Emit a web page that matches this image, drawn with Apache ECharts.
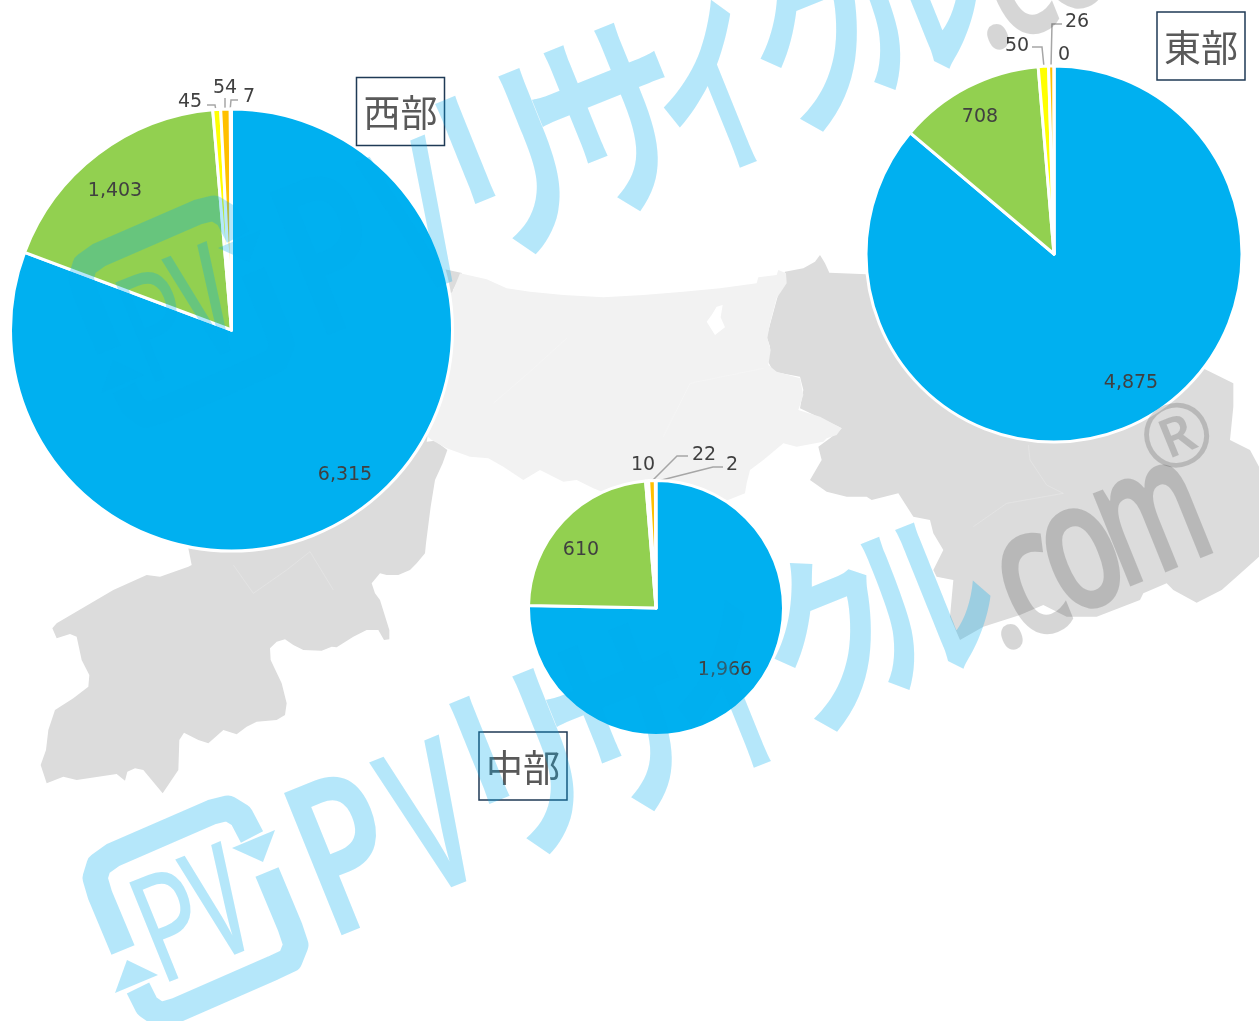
<!DOCTYPE html>
<html>
<head>
<meta charset="utf-8">
<style>
  html, body { margin: 0; padding: 0; background: #fff; }
  #chart { width: 1259px; height: 1021px; }
</style>
<script src="https://cdn.jsdelivr.net/npm/echarts@6/dist/echarts.min.js"></script>
</head>
<body>
<div id="chart"></div>
<script>
// 発電設備の内訳(西部・中部・東部)
const sliceColors = ['#00B0F0', '#92D050', '#FFFF00', '#FFC000', '#C00000']
const westValues = [6315, 1403, 45, 54, 7]
const middleValues = [1966, 610, 10, 22, 2]
const eastValues = [4875, 708, 50, 26, 0]

// label anchors, one per slice
const westLabelPos = [[345, 475], [115, 191], [190, 102], [225, 88], [249, 97]]
const middleLabelPos = [[725, 670], [581, 550], [643, 465], [704, 455], [732, 465]]
const eastLabelPos = [[1131, 383], [980, 117], [1017, 46], [1077, 22], [1064, 55]]

const westLines = [null, null, [[207, 105], [215, 105], [216, 111]], [[225, 98], [225, 104], [225, 111]], [[238, 100], [231, 100], [230, 111]]]
const middleLines = [null, null, null, [[688, 456], [677, 456], [652, 481]], [[723, 467], [713, 467], [654, 482]]]
const eastLines = [null, null, [[1032, 47], [1042, 47], [1044, 67]], [[1062, 24], [1052, 24], [1051, 67]], null]

// 背景の地図(zoom 3倍の座標で拾ったもの)
const fromZoom = (ox, oy, pts) => pts.map(p => [p[0] / 3 + ox, p[1] / 3 + oy])

const westArea = fromZoom(20, 430, [
  [1220, 35], [1245, 32], [1282, 60], [1268, 100], [1245, 150], [1232, 230], [1218, 340], [1215, 370], [1190, 400], [1170, 420],
  [1135, 435], [1100, 435], [1080, 430], [1055, 460], [1065, 490], [1080, 510], [1108, 600], [1108, 628], [1092, 630], [1075, 600],
  [1040, 600], [1000, 620], [950, 652], [935, 650], [905, 662], [850, 660], [820, 645], [795, 628], [770, 635], [750, 655],
  [752, 690], [785, 760], [800, 820], [795, 855], [770, 870], [710, 875], [680, 890], [650, 913], [610, 900], [565, 940],
  [535, 930], [492, 908], [478, 930], [475, 1020], [428, 1090], [370, 1020], [345, 1015], [322, 1025], [315, 1052], [290, 1032],
  [170, 1050], [130, 1040], [80, 1060], [62, 1005], [78, 960], [85, 900], [105, 840], [160, 805], [205, 770], [208, 735],
  [185, 690], [170, 620], [150, 612], [110, 625], [97, 595], [110, 580], [280, 480], [380, 435], [420, 440], [505, 410],
  [515, 405], [505, 355], [800, 100], [1240, -490], [1326, -471], [1299, -420]
])
const middleArea = fromZoom(430, 240, [
  [90, 100], [170, 118], [230, 145], [300, 155], [400, 165], [520, 172], [640, 165], [760, 155], [870, 145], [980, 130],
  [985, 112], [1040, 105], [1045, 90], [1068, 100], [1070, 130], [1040, 175], [1020, 250], [1012, 295], [1022, 330], [1015, 375],
  [1040, 395], [1110, 415], [1120, 465], [1105, 510], [1170, 530], [1235, 565], [1220, 585], [1190, 595], [1180, 605], [1100, 620],
  [1060, 610], [1000, 660], [960, 690], [950, 730], [945, 760], [870, 790], [600, 790], [490, 745], [440, 720], [400, 725],
  [330, 690], [280, 720], [220, 680], [175, 655], [120, 650], [50, 625], [5, 600], [-30, 570], [-60, 450], [-60, 250], [68, 155]
])
const lakeArea = fromZoom(430, 240, [[830, 245], [845, 225], [860, 200], [878, 195], [872, 232], [885, 262], [855, 285]])
const eastArea = fromZoom(760, 240, [
  [75, 95], [130, 85], [165, 65], [180, 45], [195, 70], [208, 98], [320, 103], [500, 100], [1335, 388], [1420, 430],
  [1420, 500], [1410, 600], [1470, 630], [1497, 680], [1497, 950], [1430, 1010], [1385, 1050], [1310, 1088], [1240, 1050], [1220, 1030],
  [1150, 1060], [1140, 1080], [1010, 1130], [920, 1130], [850, 1095], [780, 1125], [670, 1160], [600, 1200], [570, 1130], [580, 1020],
  [530, 1010], [520, 990], [550, 930], [520, 880], [510, 840], [460, 830], [415, 760], [335, 780], [320, 770], [260, 770],
  [200, 755], [150, 720], [185, 660], [175, 620], [210, 595], [245, 565], [120, 505], [130, 450], [120, 410], [40, 395],
  [22, 360], [30, 320], [20, 290], [50, 180]
])
const mapSeams = [
  fromZoom(20, 430, [[640, 405], [700, 490], [800, 420], [870, 365], [940, 480]]),
  fromZoom(760, 240, [[805, 615], [810, 660], [860, 735], [910, 760], [740, 790], [640, 860]]),
  fromZoom(430, 240, [[410, 295], [300, 395], [190, 490]]),
  fromZoom(430, 240, [[1000, 385], [780, 430], [700, 590]])
]

const mapGraphics = [
  { type: 'polygon', shape: { points: westArea }, style: { fill: '#DCDCDC' }, z: 0 },
  { type: 'polygon', shape: { points: eastArea }, style: { fill: '#DCDCDC' }, z: 0 },
  { type: 'polygon', shape: { points: middleArea }, style: { fill: '#F2F2F2' }, z: 0 },
  { type: 'polygon', shape: { points: lakeArea }, style: { fill: '#FFFFFF' }, z: 0 }
].concat(mapSeams.map(pts => ({
  type: 'polyline', shape: { points: pts }, style: { stroke: '#FFFFFF', lineWidth: 1, opacity: 0.2, fill: null }, z: 0
})))

// 透かし PVリサイクル.com
const markBlue = { fill: '#00AEEF', opacity: 0.29 }
const markGray = { fill: '#000000', opacity: 0.16 }
const markAngle = 22 * Math.PI / 180
const kanaFont = '"Noto Sans CJK JP"'
const latinFont = '"Noto Sans"'
const markGlyphs = [
  { ch: 'P', x: 350, y: 866, size: 215, sx: 0.72, w: '600', font: latinFont, c: markBlue },
  { ch: 'V', x: 437, y: 830, size: 205, sx: 0.58, w: '600', font: latinFont, c: markBlue },
  { ch: 'リ', x: 523, y: 764, size: 215, sx: 0.7, w: 'bold', font: kanaFont, c: markBlue },
  { ch: 'サ', x: 626, y: 720, size: 215, sx: 0.7, w: 'bold', font: kanaFont, c: markBlue },
  { ch: 'イ', x: 726, y: 690, size: 195, sx: 0.6, w: 'bold', font: kanaFont, c: markBlue },
  { ch: 'ク', x: 832, y: 640, size: 195, sx: 0.72, w: 'bold', font: kanaFont, c: markBlue },
  { ch: 'ル', x: 922, y: 598, size: 190, sx: 0.72, w: 'bold', font: kanaFont, c: markBlue },
  { ch: '.', x: 998, y: 602, size: 170, sx: 0.75, w: '600', font: latinFont, c: markGray },
  { ch: 'c', x: 1031, y: 584, size: 185, sx: 0.68, w: '600', font: latinFont, c: markGray },
  { ch: 'o', x: 1082, y: 556, size: 185, sx: 0.68, w: '600', font: latinFont, c: markGray },
  { ch: 'm', x: 1152, y: 521, size: 185, sx: 0.6, w: '600', font: latinFont, c: markGray },
  { ch: '®', x: 1179, y: 441, size: 88, sx: 1, w: 'normal', font: latinFont, c: markGray }
]
const logoArcA = [[123, 950], [100, 895], [95, 878], [99, 865], [113, 855], [212, 812], [228, 808], [241, 816], [252, 837]]
const logoArcB = [[267, 872], [290, 927], [296, 945], [290, 960], [273, 968], [177, 1010], [160, 1015], [147, 1006], [138, 988]]
const logoHeadA = [[275, 830], [263, 862], [232, 848]]
const logoHeadB = [[127, 960], [158, 975], [115, 993]]

function makeMark(dx, dy) {
  const children = [
    { type: 'polyline', shape: { points: logoArcA }, style: { fill: null, stroke: '#00AEEF', lineWidth: 25, lineJoin: 'round', opacity: 0.29 } },
    { type: 'polyline', shape: { points: logoArcB }, style: { fill: null, stroke: '#00AEEF', lineWidth: 25, lineJoin: 'round', opacity: 0.29 } },
    { type: 'polygon', shape: { points: logoHeadA }, style: { ...markBlue } },
    { type: 'polygon', shape: { points: logoHeadB }, style: { ...markBlue } },
    {
      type: 'text', x: 174, y: 934, rotation: markAngle, scaleX: 0.72,
      style: { text: 'P', font: '150px ' + latinFont, align: 'center', verticalAlign: 'middle', ...markBlue }
    },
    {
      type: 'text', x: 223, y: 912, rotation: markAngle, scaleX: 0.5,
      style: { text: 'V', font: '600 155px ' + latinFont, align: 'center', verticalAlign: 'middle', ...markBlue }
    }
  ]
  markGlyphs.forEach(g => {
    children.push({
      type: 'text', x: g.x, y: g.y, rotation: markAngle, scaleX: g.sx,
      style: { text: g.ch, font: g.w + ' ' + g.size + 'px ' + g.font, align: 'center', verticalAlign: 'middle', ...g.c }
    })
  })
  return { type: 'group', x: dx, y: dy, z: 100, children: children.map(c => ({ ...c, z: 100 })) }
}

// 地域名の枠
const regionBoxes = [
  { name: '西部', x: 356.5, y: 77.5, w: 88, h: 68 },
  { name: '東部', x: 1157, y: 12, w: 88, h: 68 },
  { name: '中部', x: 479, y: 732, w: 88, h: 68 }
]
const boxGraphics = []
regionBoxes.forEach(b => {
  boxGraphics.push({ type: 'rect', shape: { x: b.x, y: b.y, width: b.w, height: b.h }, style: { fill: null, stroke: '#1F3A56', lineWidth: 1.5 }, z: 50 })
  boxGraphics.push({
    type: 'text', x: b.x + b.w / 2, y: b.y + b.h / 2 + 1.5, z: 50,
    style: { text: b.name, font: '37px "Noto Sans CJK JP"', fill: '#595959', align: 'center', verticalAlign: 'middle' }
  })
})

function pieSeries(values, center, radius, labelPos, lines) {
  return {
    type: 'pie',
    center: center,
    radius: radius,
    startAngle: 90,
    clockwise: true,
    animation: false,
    silent: true,
    avoidLabelOverlap: false,
    stillShowZeroSum: true,
    itemStyle: { borderColor: '#FFFFFF', borderWidth: 3 },
    label: {
      show: true,
      position: 'outside',
      fontFamily: '"DejaVu Sans"',
      fontSize: 19,
      color: '#404040',
      formatter: p => p.value.toLocaleString('en-US')
    },
    labelLine: { show: true, lineStyle: { color: '#A6A6A6', width: 1.5 } },
    labelLayout: params => {
      const pos = labelPos[params.dataIndex]
      const out = { x: pos[0], y: pos[1], align: 'center', verticalAlign: 'middle' }
      if (lines[params.dataIndex]) out.labelLinePoints = lines[params.dataIndex]
      return out
    },
    data: values.map((v, i) => ({
      value: v,
      itemStyle: { color: sliceColors[i] },
      labelLine: { show: !!lines[i] }
    }))
  }
}

const chart = echarts.init(document.getElementById('chart'), null, { renderer: 'canvas' })
chart.setOption({
  backgroundColor: '#FFFFFF',
  animation: false,
  graphic: { elements: mapGraphics.concat(boxGraphics, [makeMark(0, 0), makeMark(-14, -600)]) },
  series: [
    pieSeries(westValues, [231.5, 330], 221, westLabelPos, westLines),
    pieSeries(middleValues, [656, 608], 127.5, middleLabelPos, middleLines),
    pieSeries(eastValues, [1054, 254], 188, eastLabelPos, eastLines)
  ]
})
</script>
</body>
</html>
